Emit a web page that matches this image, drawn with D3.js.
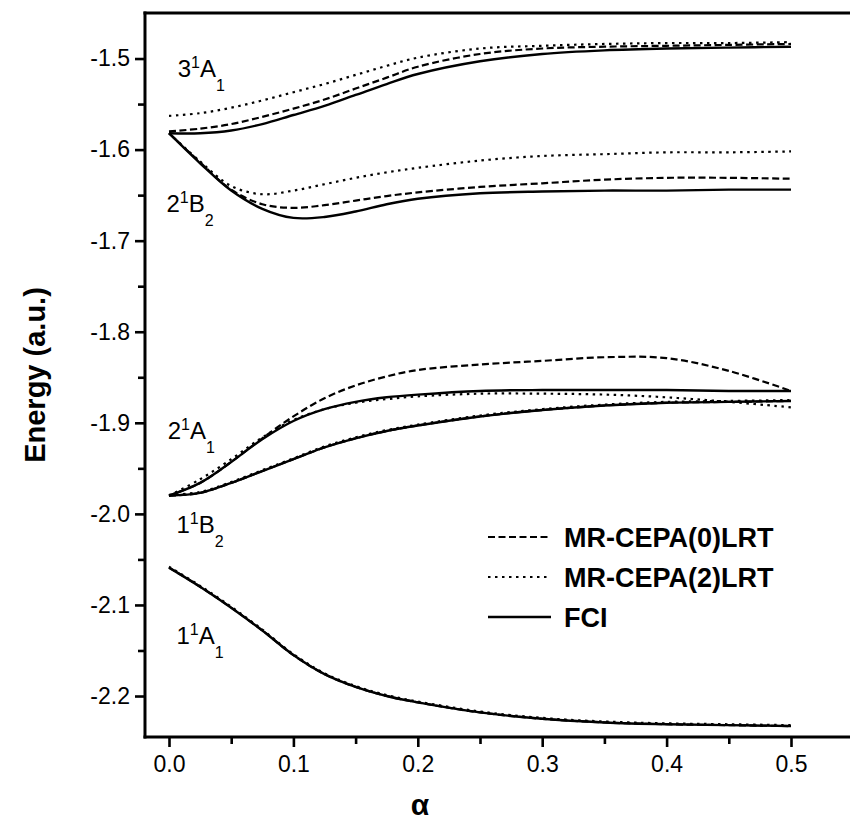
<!DOCTYPE html>
<html>
<head>
<meta charset="utf-8">
<script src="https://cdn.jsdelivr.net/npm/d3@7"></script>
<style>
  body { margin: 0; background: #fff; }
  svg text { font-family: "Liberation Sans", Arial, sans-serif; fill: #000; }
</style>
</head>
<body>
<svg id="chart" width="850" height="830"></svg>
<script>
// alpha grid
const alpha = [0, 0.025, 0.05, 0.075, 0.1, 0.125, 0.15, 0.175, 0.2, 0.25, 0.3, 0.35, 0.4, 0.45, 0.5];

// 3 1A1
const fci_3A1   = [-1.582, -1.582, -1.579, -1.572, -1.562, -1.552, -1.540, -1.528, -1.517, -1.503, -1.495, -1.491, -1.489, -1.488, -1.487];
const cepa0_3A1 = [-1.580, -1.577, -1.572, -1.564, -1.555, -1.545, -1.533, -1.521, -1.509, -1.495, -1.489, -1.487, -1.486, -1.485, -1.484];
const cepa2_3A1 = [-1.563, -1.560, -1.554, -1.546, -1.537, -1.528, -1.518, -1.508, -1.499, -1.489, -1.486, -1.484, -1.483, -1.483, -1.482];
// 2 1B2
const fci_2B2   = [-1.582, -1.615, -1.645, -1.665, -1.675, -1.674, -1.668, -1.660, -1.654, -1.648, -1.646, -1.645, -1.645, -1.644, -1.644];
const cepa0_2B2 = [-1.582, -1.614, -1.644, -1.660, -1.664, -1.661, -1.656, -1.651, -1.647, -1.641, -1.637, -1.633, -1.631, -1.631, -1.632];
const cepa2_2B2 = [-1.582, -1.613, -1.640, -1.649, -1.645, -1.638, -1.631, -1.625, -1.620, -1.612, -1.607, -1.605, -1.603, -1.603, -1.602];
// 2 1A1
const fci_2A1   = [-1.980, -1.966, -1.943, -1.918, -1.898, -1.885, -1.877, -1.872, -1.869, -1.865, -1.864, -1.864, -1.864, -1.865, -1.865];
const cepa0_2A1 = [-1.980, -1.966, -1.943, -1.917, -1.893, -1.873, -1.859, -1.849, -1.842, -1.836, -1.832, -1.828, -1.829, -1.843, -1.865];
const cepa2_2A1 = [-1.980, -1.962, -1.940, -1.916, -1.897, -1.885, -1.878, -1.874, -1.871, -1.868, -1.868, -1.869, -1.872, -1.877, -1.883];
// 1 1B2
const fci_1B2   = [-1.980, -1.977, -1.966, -1.953, -1.940, -1.927, -1.917, -1.909, -1.903, -1.893, -1.886, -1.881, -1.878, -1.877, -1.876];
const cepa0_1B2 = [-1.980, -1.977, -1.966, -1.953, -1.940, -1.927, -1.917, -1.909, -1.903, -1.893, -1.886, -1.881, -1.878, -1.877, -1.876];
const cepa2_1B2 = [-1.979, -1.976, -1.965, -1.952, -1.939, -1.926, -1.916, -1.908, -1.902, -1.892, -1.885, -1.880, -1.877, -1.876, -1.875];
// 1 1A1
const fci_1A1   = [-2.059, -2.080, -2.103, -2.128, -2.155, -2.176, -2.190, -2.200, -2.207, -2.218, -2.225, -2.229, -2.231, -2.232, -2.233];
const cepa0_1A1 = [-2.059, -2.080, -2.103, -2.128, -2.155, -2.176, -2.190, -2.200, -2.207, -2.218, -2.225, -2.229, -2.231, -2.232, -2.233];
const cepa2_1A1 = [-2.058, -2.079, -2.102, -2.127, -2.154, -2.175, -2.189, -2.199, -2.206, -2.217, -2.224, -2.228, -2.230, -2.231, -2.232];

const xTicks = [0, 0.1, 0.2, 0.3, 0.4, 0.5];
const xMinor = [0.05, 0.15, 0.25, 0.35, 0.45];
const yTicks = [-1.5, -1.6, -1.7, -1.8, -1.9, -2.0, -2.1, -2.2];
const yMinor = [-1.55, -1.65, -1.75, -1.85, -1.95, -2.05, -2.15];

const methods = ["MR-CEPA(0)LRT", "MR-CEPA(2)LRT", "FCI"];
const dashes = ["7,3.5", "2.5,4.5", null];

// state labels: [main, sup, letter, sub, alpha, energy]
const stateLabels = [
  ["3", "1", "A", "1", 0.007, -1.520],
  ["2", "1", "B", "2", -0.002, -1.669],
  ["2", "1", "A", "1", -0.001, -1.918],
  ["1", "1", "B", "2", 0.006, -2.021],
  ["1", "1", "A", "1", 0.006, -2.143]
];

const series = [
  [cepa0_3A1, cepa2_3A1, fci_3A1],
  [cepa0_2B2, cepa2_2B2, fci_2B2],
  [cepa0_2A1, cepa2_2A1, fci_2A1],
  [cepa0_1B2, cepa2_1B2, fci_1B2],
  [cepa0_1A1, cepa2_1A1, fci_1A1]
];

const svg = d3.select("#chart");
const plotTop = 13, plotBottom = 737, plotRight = 850;

const x = d3.scaleLinear().domain([0, 0.5]).range([169, 791]);
const y = d3.scaleLinear().domain([-1.45, -2.245]).range([plotTop, plotBottom]);
const plotLeft = x(-0.0193);

// curves
const line = d3.line()
  .x((d, i) => x(alpha[i]))
  .y(d => y(d))
  .curve(d3.curveCatmullRom.alpha(0.5));

series.forEach(group => {
  group.forEach((vals, m) => {
    svg.append("path")
      .datum(vals)
      .attr("fill", "none")
      .attr("stroke", "#000")
      .attr("stroke-width", m === 2 ? 2.4 : 2.2)
      .attr("stroke-dasharray", dashes[m])
      .attr("d", line);
  });
});

// y axis
const gy = svg.append("g").attr("transform", `translate(${plotLeft},0)`);
gy.call(d3.axisLeft(y).tickValues(yTicks).tickSize(10).tickPadding(5)
  .tickFormat(d => d3.format(".1f")(d).replace("−", "-")));
gy.append("g").call(d3.axisLeft(y).tickValues(yMinor).tickSize(7).tickFormat(""));
gy.selectAll(".domain").remove();
gy.selectAll("line").attr("stroke-width", 2.6);
gy.selectAll("text").style("font-size", "23px");

// x axis
const gx = svg.append("g").attr("transform", `translate(0,${plotBottom})`);
gx.call(d3.axisBottom(x).tickValues(xTicks).tickSize(10).tickPadding(9).tickFormat(d3.format(".1f")));
gx.append("g").call(d3.axisBottom(x).tickValues(xMinor).tickSize(7).tickFormat(""));
gx.selectAll(".domain").remove();
gx.selectAll("line").attr("stroke-width", 2.6);
gx.selectAll("text").style("font-size", "23px");

// frame lines
svg.append("line").attr("x1", plotLeft).attr("x2", plotLeft).attr("y1", plotTop - 1.5).attr("y2", plotBottom + 1.5)
  .attr("stroke", "#000").attr("stroke-width", 3);
svg.append("line").attr("x1", plotLeft - 1.5).attr("x2", plotRight).attr("y1", plotBottom).attr("y2", plotBottom)
  .attr("stroke", "#000").attr("stroke-width", 3);
svg.append("line").attr("x1", plotLeft - 1.5).attr("x2", plotRight).attr("y1", plotTop).attr("y2", plotTop)
  .attr("stroke", "#000").attr("stroke-width", 3);

// axis titles
svg.append("text")
  .attr("transform", `translate(45,${(plotTop + plotBottom) / 2}) rotate(-90)`)
  .attr("text-anchor", "middle")
  .style("font-size", "29px").style("font-weight", "bold")
  .text("Energy (a.u.)");
svg.append("text")
  .attr("x", 420).attr("y", 815)
  .attr("text-anchor", "middle")
  .style("font-size", "30px").style("font-weight", "bold")
  .text("α");

// state labels
stateLabels.forEach(s => {
  const t = svg.append("text")
    .attr("x", x(s[4])).attr("y", y(s[5]))
    .style("font-size", "24px");
  t.append("tspan").text(s[0]);
  t.append("tspan").attr("dy", -9).style("font-size", "16px").text(s[1]);
  t.append("tspan").attr("dy", 9).text(s[2]);
  t.append("tspan").attr("dy", 14).style("font-size", "16px").text(s[3]);
});

// legend
const lg = svg.append("g").attr("transform", "translate(488,537)");
methods.forEach((m, i) => {
  const row = lg.append("g").attr("transform", `translate(0,${i * 40})`);
  row.append("line").attr("x1", 0).attr("x2", 63).attr("y1", 0).attr("y2", 0)
    .attr("stroke", "#000").attr("stroke-width", m === "FCI" ? 2.6 : 2.2)
    .attr("stroke-dasharray", dashes[i]);
  row.append("text").attr("x", 76).attr("y", 10)
    .style("font-size", "27px").style("font-weight", "bold")
    .text(m);
});
</script>
</body>
</html>
